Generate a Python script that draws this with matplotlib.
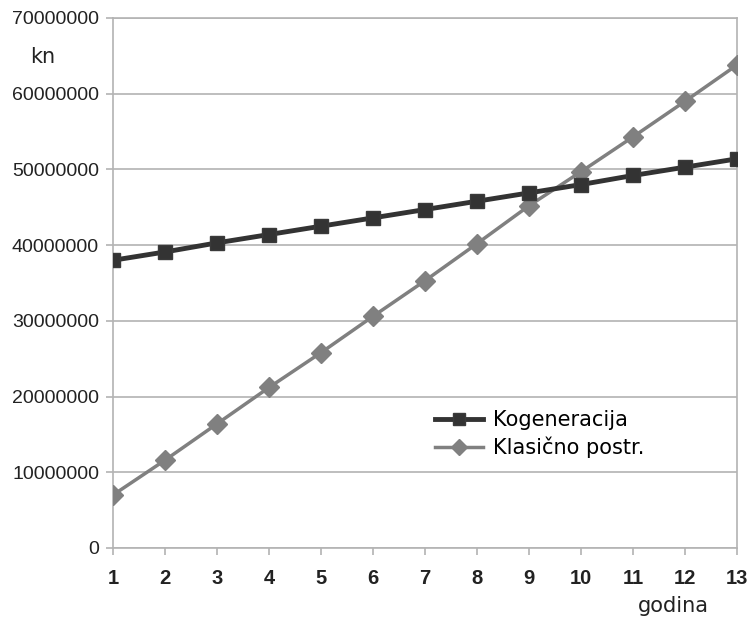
import numpy as np
import matplotlib
matplotlib.use("Agg")
from matplotlib import pyplot as plt

godina = list(range(1, 14))
kogeneracija = [38.0e6, 39.1e6, 40.3e6, 41.4e6, 42.5e6, 43.6e6, 44.7e6,
                45.8e6, 46.9e6, 48.0e6, 49.2e6, 50.3e6, 51.4e6]
klasicno = [7.0e6, 11.6e6, 16.4e6, 21.2e6, 25.8e6, 30.6e6, 35.3e6,
            40.2e6, 45.2e6, 49.7e6, 54.3e6, 59.0e6, 63.8e6]
y_ticks = list(range(0, 70000001, 10000000))

plt.rcParams['font.family'] = ['Liberation Sans', 'DejaVu Sans']
grid_col = '#b3b3b3'
txt_col = '#222222'

fig = plt.figure(figsize=(7.51, 6.17), dpi=100)
ax = fig.add_axes([113/751, 1 - 548/617, (737 - 113)/751, (548 - 18)/617])

ax.plot(godina, klasicno, color='#808080', lw=2.5, marker='D', ms=10,
        label='Klasično postr.', zorder=3)
ax.plot(godina, kogeneracija, color='#333333', lw=3.5, marker='s', ms=10,
        mec='#3a3a3a', label='Kogeneracija', zorder=4)

ax.set_xlim(1, 13)
ax.set_ylim(0, 70000000)
ax.set_xticks(godina)
ax.set_yticks(y_ticks)
ax.set_yticklabels([str(v) for v in y_ticks])
ax.yaxis.grid(True, color=grid_col, lw=1.2)
ax.set_axisbelow(True)
for s in ax.spines.values():
    s.set_color(grid_col)
    s.set_linewidth(1.2)
ax.tick_params(axis='both', colors=grid_col, labelcolor=txt_col,
               length=5, width=1.2, direction='out')
ax.tick_params(axis='y', labelsize=14, pad=5)
ax.tick_params(axis='x', labelsize=14.5, pad=10)
for lbl in ax.get_xticklabels():
    lbl.set_fontweight('bold')

fig.text(30/751, 1 - 57/617, 'kn', fontsize=15, color=txt_col, va='center',
         family='DejaVu Sans')
fig.text(638/751, 1 - 606/617, 'godina', fontsize=15, color=txt_col,
         va='center', family='DejaVu Sans')

h, l = ax.get_legend_handles_labels()
ax.legend(h[::-1], l[::-1], loc='upper left', bbox_to_anchor=(0.516, 0.26),
          frameon=False, handlelength=2.3, handletextpad=0.5,
          labelspacing=0.3, borderpad=0, borderaxespad=0, markerscale=0.8,
          prop={'family': 'DejaVu Sans', 'size': 15})

fig.savefig('out.png', dpi=100)
